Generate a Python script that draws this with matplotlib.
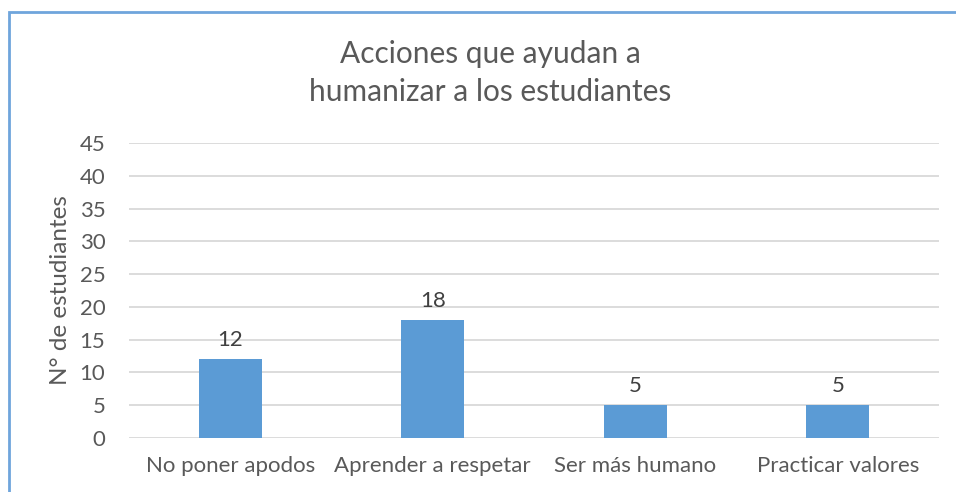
import matplotlib.pyplot as plt
from matplotlib.patches import Rectangle

# Respuestas de los estudiantes
acciones = ["No poner apodos", "Aprender a respetar", "Ser más humano", "Practicar valores"]
estudiantes = [12, 18, 5, 5]
yticks = [0, 5, 10, 15, 20, 25, 30, 35, 40, 45]

plt.rcParams["font.family"] = ["Lato", "DejaVu Sans"]
gris = "#595959"

fig = plt.figure(figsize=(9.56, 4.92), dpi=100)
ax = fig.add_axes([129 / 956, 1 - 438 / 492, 810 / 956, 295 / 492])

x = range(len(acciones))
ax.bar(x, estudiantes, width=0.31, color="#5B9BD5", zorder=3)
for xi, v in zip(x, estudiantes):
    ax.text(xi, v + 1.4, str(v), ha="center", va="bottom", fontsize=16, color="#404040")

ax.set_xlim(-0.5, len(acciones) - 0.5)
ax.set_ylim(0, 45)
ax.set_yticks(yticks)
ax.set_xticks(list(x))
ax.set_xticklabels(acciones)
ax.tick_params(length=0, labelsize=16, labelcolor=gris)
ax.tick_params(axis="y", pad=17)
ax.tick_params(axis="x", pad=13)
ax.grid(axis="y", color="#D9D9D9", linewidth=1.3, zorder=0)
for s in ax.spines.values():
    s.set_visible(False)

ax.set_ylabel("N° de estudiantes", fontsize=17.5, color=gris, labelpad=6)
fig.text(490 / 956, 1 - 73 / 492, "Acciones que ayudan a\nhumanizar a los estudiantes",
         ha="center", va="center", fontsize=21.5, color=gris, linespacing=1.4)

# Marco del gráfico
fig.patches.append(Rectangle((8.5 / 956, -0.1), 1.2, 1 - 11.5 / 492 + 0.1,
                             transform=fig.transFigure, fill=False,
                             edgecolor="#6FA5DC", linewidth=2))

fig.savefig("out.png", dpi=100)
